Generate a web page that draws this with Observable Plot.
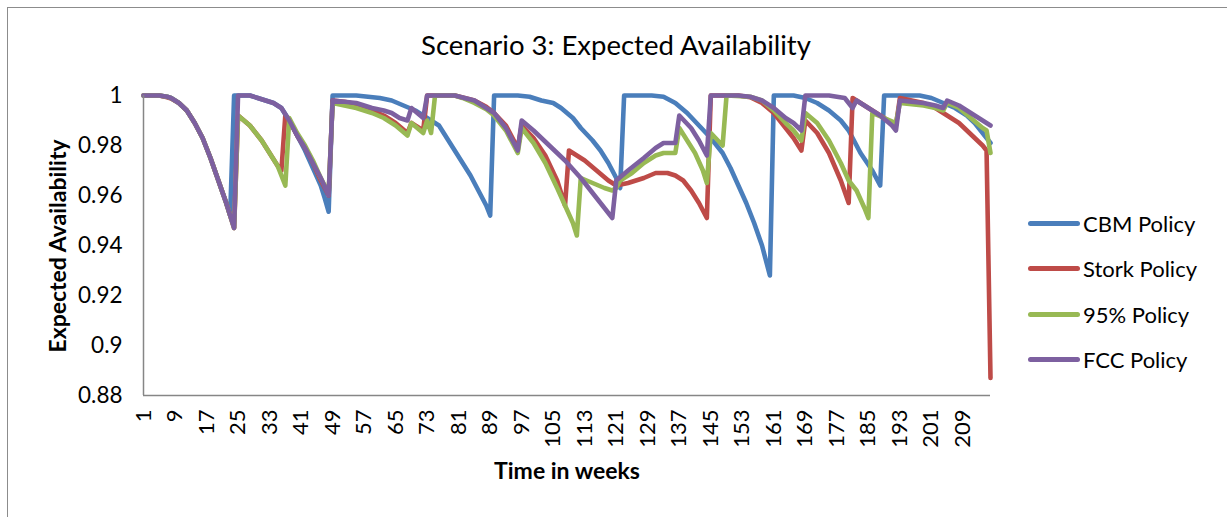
<!DOCTYPE html>
<html>
<head>
<meta charset="utf-8">
<script src="https://cdn.jsdelivr.net/npm/d3@7"></script>
<script src="https://cdn.jsdelivr.net/npm/@observablehq/plot@0.6"></script>
<style>
  body { margin: 0; background: #fff; font-family: Lato, "Open Sans", sans-serif; }
  #wrap { position: relative; width: 1227px; height: 517px; overflow: hidden; background: #fff; }
  #border { position: absolute; left: 7px; top: 7px; width: 1260px; height: 560px; border: 1px solid #8c8c8c; }
  #title { position: absolute; left: 0; width: 1232px; top: 28px; text-align: center; font-size: 27.5px; color: #000; }
  #ytitle { position: absolute; left: -93px; top: 232px; width: 300px; text-align: center; font-size: 23px; font-weight: bold; transform: rotate(-90deg); }
  #xtitle { position: absolute; left: 417px; width: 300px; top: 456px; text-align: center; font-size: 23px; font-weight: bold; }
  #chart { position: absolute; left: 0; top: 0; }
  .leg { position: absolute; left: 1028px; height: 26px; font-size: 22px; line-height: 26px; }
  .leg span.sw { position: absolute; left: 0; top: 10px; width: 52px; height: 5px; border-radius: 3px; }
  .leg span.lb { position: absolute; left: 55px; top: 0; white-space: nowrap; }
</style>
</head>
<body>
<div id="wrap">
  <div id="border"></div>
  <div id="chart"></div>
  <div id="title">Scenario 3: Expected Availability</div>
  <div id="ytitle">Expected Availability</div>
  <div id="xtitle">Time in weeks</div>
  <div id="legend"></div>
</div>
<script>
const seriesNames = ["CBM Policy", "Stork Policy", "95% Policy", "FCC Policy"];
const seriesColors = ["#4A7EBB", "#BE4B48", "#98B954", "#7D60A0"];

const xTicks = [1, 9, 17, 25, 33, 41, 49, 57, 65, 73, 81, 89, 97, 105, 113, 121, 129, 137, 145, 153, 161, 169, 177, 185, 193, 201, 209];
const yTicks = [0.88, 0.9, 0.92, 0.94, 0.96, 0.98, 1];
const yTickLabels = ["0.88", "0.9", "0.92", "0.94", "0.96", "0.98", "1"];

const cbmWeeks = [1,5,7,8,10,12,14,16,18,20,22,23,24,28,30,32,34,36,38,40,42,44,46,47,48,49,55,58,61,64,67,70,73,76,78,80,82,84,86,88,89,90,96,99,102,105,107,110,112,115,117,119,121,122,123,130,133,136,139,142,145,148,150,152,154,156,158,160,161,166,169,172,175,178,180,183,186,188,189,198,201,204,207,210,212,214,216];
const cbmValues = [1,1,0.9995,0.999,0.997,0.994,0.989,0.983,0.975,0.966,0.957,0.952,1,1,0.999,0.998,0.997,0.995,0.990,0.984,0.978,0.971,0.964,0.959,0.9535,1,1,0.9995,0.999,0.998,0.996,0.994,0.991,0.988,0.983,0.978,0.973,0.968,0.962,0.956,0.952,1,1,0.9995,0.998,0.997,0.995,0.991,0.987,0.982,0.978,0.973,0.967,0.963,1,1,0.9995,0.997,0.993,0.988,0.983,0.977,0.971,0.964,0.957,0.949,0.940,0.928,1,1,0.999,0.997,0.994,0.990,0.986,0.977,0.970,0.964,1,1,0.999,0.997,0.995,0.992,0.989,0.985,0.981];

const storkWeeks = [1,5,7,8,10,12,14,16,18,20,22,23,24,25,28,31,33,35,36,37,38,40,42,44,46,48,49,52,55,59,62,65,68,69,72,73,80,82,85,88,90,93,96,97,100,103,106,108,109,113,116,119,121,124,128,131,134,136,138,140,142,144,145,152,155,158,161,164,166,168,169,172,175,178,180,181,184,187,190,192,193,196,199,202,205,208,210,212,214,215,216];
const storkValues = [1,1,0.9993,0.9988,0.997,0.994,0.989,0.983,0.975,0.966,0.957,0.952,0.947,0.992,0.988,0.982,0.977,0.972,0.970,0.992,0.990,0.984,0.979,0.973,0.966,0.960,0.998,0.9975,0.9965,0.994,0.992,0.989,0.985,0.989,0.986,1,1,0.9992,0.998,0.9955,0.993,0.988,0.979,0.988,0.983,0.976,0.966,0.956,0.978,0.974,0.970,0.966,0.964,0.965,0.967,0.969,0.969,0.968,0.966,0.962,0.957,0.951,1,1,0.9993,0.997,0.993,0.987,0.983,0.978,0.990,0.985,0.977,0.966,0.957,0.999,0.996,0.993,0.990,0.988,0.999,0.998,0.997,0.995,0.992,0.989,0.986,0.983,0.980,0.978,0.887];

const p95Weeks = [1,5,7,8,10,12,14,16,18,20,22,23,24,25,28,31,33,35,37,38,40,42,44,46,48,49,52,55,59,62,65,68,69,72,73,74,75,80,82,85,88,90,93,96,97,100,103,106,108,110,111,112,115,118,120,121,122,125,128,131,133,136,137,139,141,143,144,145,148,149,155,158,161,164,166,168,169,172,175,178,180,181,182,184,185,186,189,192,193,196,199,202,204,205,208,211,214,215,216];
const p95Values = [1,1,0.9995,0.999,0.997,0.994,0.989,0.983,0.975,0.966,0.957,0.952,0.947,0.992,0.988,0.982,0.977,0.972,0.964,0.991,0.985,0.980,0.974,0.967,0.961,0.997,0.996,0.995,0.993,0.991,0.988,0.984,0.989,0.985,0.990,0.985,1,1,0.999,0.997,0.9945,0.992,0.986,0.977,0.987,0.981,0.973,0.963,0.956,0.949,0.944,0.967,0.965,0.963,0.962,0.963,0.966,0.969,0.973,0.976,0.977,0.977,0.987,0.982,0.977,0.970,0.965,0.985,0.980,1,0.9995,0.998,0.994,0.989,0.986,0.982,0.993,0.989,0.982,0.973,0.966,0.964,0.962,0.955,0.951,0.993,0.991,0.989,0.997,0.9965,0.996,0.995,0.994,0.997,0.995,0.991,0.987,0.986,0.977];

const fccWeeks = [1,5,7,8,10,12,14,16,18,20,22,23,24,25,28,30,32,34,36,38,40,42,44,46,48,49,52,55,59,62,64,66,68,69,72,73,80,82,85,88,90,93,96,97,100,104,108,112,116,120,121,124,128,131,133,136,137,140,142,144,145,152,155,158,161,164,166,168,169,175,179,181,182,185,188,191,192,193,196,199,202,204,205,208,211,214,216];
const fccValues = [1,1,0.9995,0.999,0.997,0.994,0.989,0.983,0.975,0.966,0.957,0.952,0.947,1,1,0.999,0.998,0.997,0.995,0.990,0.984,0.979,0.973,0.967,0.960,0.998,0.9975,0.997,0.995,0.994,0.993,0.991,0.990,0.995,0.991,1,1,0.9992,0.998,0.995,0.993,0.987,0.978,0.990,0.986,0.980,0.974,0.967,0.959,0.951,0.966,0.970,0.975,0.979,0.981,0.981,0.992,0.987,0.982,0.976,1,1,0.9995,0.998,0.995,0.991,0.989,0.986,1,1,0.999,0.995,0.998,0.995,0.992,0.988,0.986,0.998,0.9975,0.997,0.996,0.995,0.998,0.996,0.993,0.990,0.988];

const seriesWeeks = [cbmWeeks, storkWeeks, p95Weeks, fccWeeks];
const seriesValues = [cbmValues, storkValues, p95Values, fccValues];

const tables = seriesNames.map((name, s) =>
  seriesWeeks[s].map((w, i) => ({series: name, week: w, value: seriesValues[s][i]}))
);

const fmtY = d => yTickLabels[yTicks.indexOf(d)];

const chart = Plot.plot({
  width: 1227,
  height: 517,
  marginLeft: 143,
  marginRight: 237,
  marginTop: 95,
  marginBottom: 122,
  x: {domain: [1, 216]},
  y: {domain: [0.88, 1]},
  style: {fontFamily: "Lato, 'Open Sans', sans-serif", fontSize: "22px", background: "transparent", color: "#000"},
  marks: [
    Plot.axisY({ticks: yTicks, tickFormat: fmtY, tickSize: 0, tickPadding: 21, label: null, fontSize: 22.5}),
    Plot.axisX({ticks: xTicks, tickFormat: d => String(d), tickRotate: -90, tickSize: 0, tickPadding: 14, label: null, fontSize: 22}),
    ...tables.map((t, s) => Plot.line(t, {x: "week", y: "value", stroke: seriesColors[s], strokeWidth: 4.6, strokeLinejoin: "round", strokeLinecap: "round"})),
    Plot.ruleX([1], {stroke: "#868686", strokeWidth: 1.5}),
    Plot.ruleY([0.88], {stroke: "#868686", strokeWidth: 1.5})
  ]
});
document.getElementById("chart").appendChild(chart);

const legendTops = [211, 256, 302, 347];
const legend = document.getElementById("legend");
seriesNames.forEach((name, s) => {
  const d = document.createElement("div");
  d.className = "leg";
  d.style.top = legendTops[s] + "px";
  d.innerHTML = `<span class="sw" style="background:${seriesColors[s]}"></span><span class="lb">${name}</span>`;
  legend.appendChild(d);
});
</script>
</body>
</html>
